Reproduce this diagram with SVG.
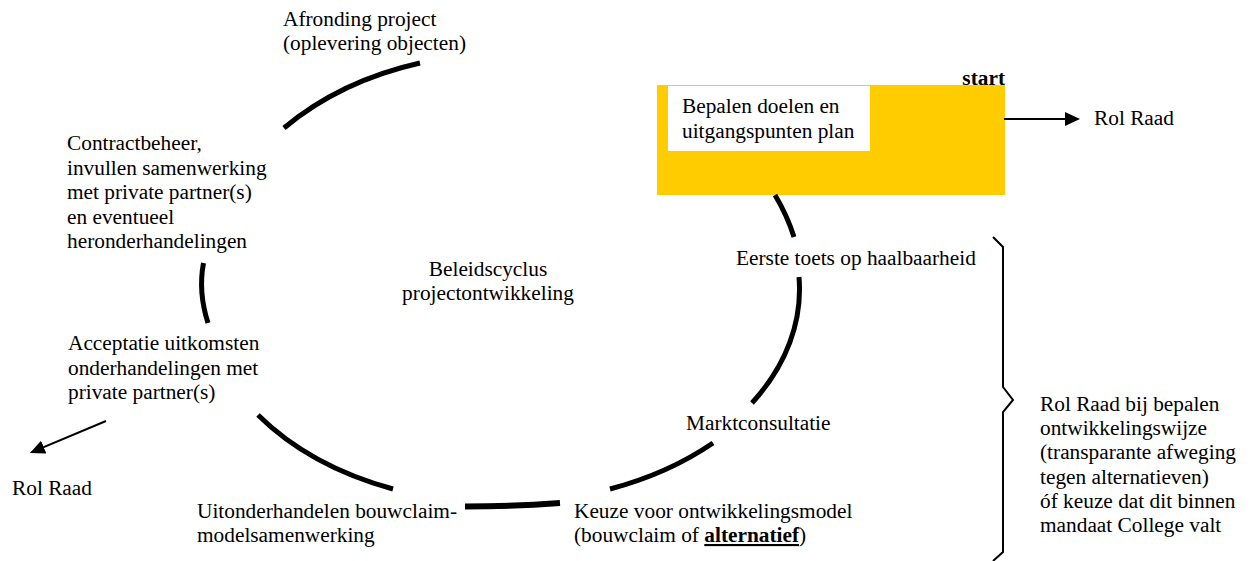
<svg xmlns="http://www.w3.org/2000/svg" width="1256" height="561" viewBox="0 0 1256 561">
<style>
text{font-family:"Liberation Serif","Times New Roman",serif;font-size:21.33px;fill:#000}
.cyc{fill:none;stroke:#000;stroke-width:5}
.arr{fill:none;stroke:#000;stroke-width:2}
.b{font-weight:bold}
</style>
<defs>
<marker id="ah" viewBox="0 0 15 14" refX="13" refY="7" markerWidth="15" markerHeight="14" markerUnits="userSpaceOnUse" orient="auto">
<path d="M0,0 L15,7 L0,14 z" fill="#000"/>
</marker>
</defs>
<rect width="1256" height="561" fill="#fff"/>
<g id="start-box">
<rect x="657" y="85" width="348" height="110" fill="#FFCC00"/>
<rect x="668" y="86" width="202" height="65" fill="#fff"/>
<text x="682" y="113">Bepalen doelen en</text>
<text x="682" y="138">uitgangspunten plan</text>
<text x="1005" y="85" text-anchor="end" class="b">start</text>
</g>
<g id="connectors">
<path class="cyc" d="M284,128 A298.5,231 0 0 1 420,63"/>
<path class="cyc" d="M203.5,263 Q198,292 208,323"/>
<path class="cyc" d="M258,415 A298.5,210 0 0 0 393,489"/>
<path class="cyc" style="stroke-width:6" d="M465,506.5 Q512,506.5 560,503"/>
<path class="cyc" d="M610,489 A298.5,210 0 0 0 713,443"/>
<path class="cyc" d="M799,277 A298.5,210 0 0 1 752,403"/>
<path class="cyc" d="M775,195 A298.5,231 0 0 1 794,237"/>
<line class="arr" x1="1004" y1="119" x2="1078" y2="119" marker-end="url(#ah)"/>
<line class="arr" x1="106" y1="421" x2="31.8" y2="452.2" marker-end="url(#ah)"/>
<path class="arr" d="M993,237 L1003,247 L1003,387 L1013,400 L1003,412 L1003,552 L993,561"/>
</g>
<g id="afronding">
<text x="283" y="26">Afronding project</text>
<text x="283" y="50">(oplevering objecten)</text>
</g>
<g id="contractbeheer">
<text x="67" y="150">Contractbeheer,</text>
<text x="67" y="174.5">invullen samenwerking</text>
<text x="67" y="199">met private partner(s)</text>
<text x="67" y="223.5">en eventueel</text>
<text x="67" y="248">heronderhandelingen</text>
</g>
<g id="titel">
<text x="488" y="276" text-anchor="middle">Beleidscyclus</text>
<text x="488" y="300" text-anchor="middle">projectontwikkeling</text>
</g>
<g id="rol-raad-rechts">
<text x="1094" y="125">Rol Raad</text>
</g>
<g id="eerste-toets">
<text x="736" y="265">Eerste toets op haalbaarheid</text>
</g>
<g id="acceptatie">
<text x="68" y="350">Acceptatie uitkomsten</text>
<text x="68" y="374.5">onderhandelingen met</text>
<text x="68" y="399">private partner(s)</text>
</g>
<g id="rol-raad-links">
<text x="12" y="495">Rol Raad</text>
</g>
<g id="marktconsultatie">
<text x="686" y="430">Marktconsultatie</text>
</g>
<g id="uitonderhandelen">
<text x="197" y="518">Uitonderhandelen bouwclaim-</text>
<text x="197" y="542">modelsamenwerking</text>
</g>
<g id="keuze">
<text x="574" y="518">Keuze voor ontwikkelingsmodel</text>
<text x="574" y="542">(bouwclaim of <tspan class="b" text-decoration="underline">alternatief</tspan>)</text>
</g>
<g id="rol-raad-ontwikkelingswijze">
<text x="1040" y="411">Rol Raad bij bepalen</text>
<text x="1040" y="435">ontwikkelingswijze</text>
<text x="1040" y="459">(transparante afweging</text>
<text x="1040" y="483.5">tegen alternatieven)</text>
<text x="1040" y="508">óf keuze dat dit binnen</text>
<text x="1040" y="532">mandaat College valt</text>
</g>
</svg>
